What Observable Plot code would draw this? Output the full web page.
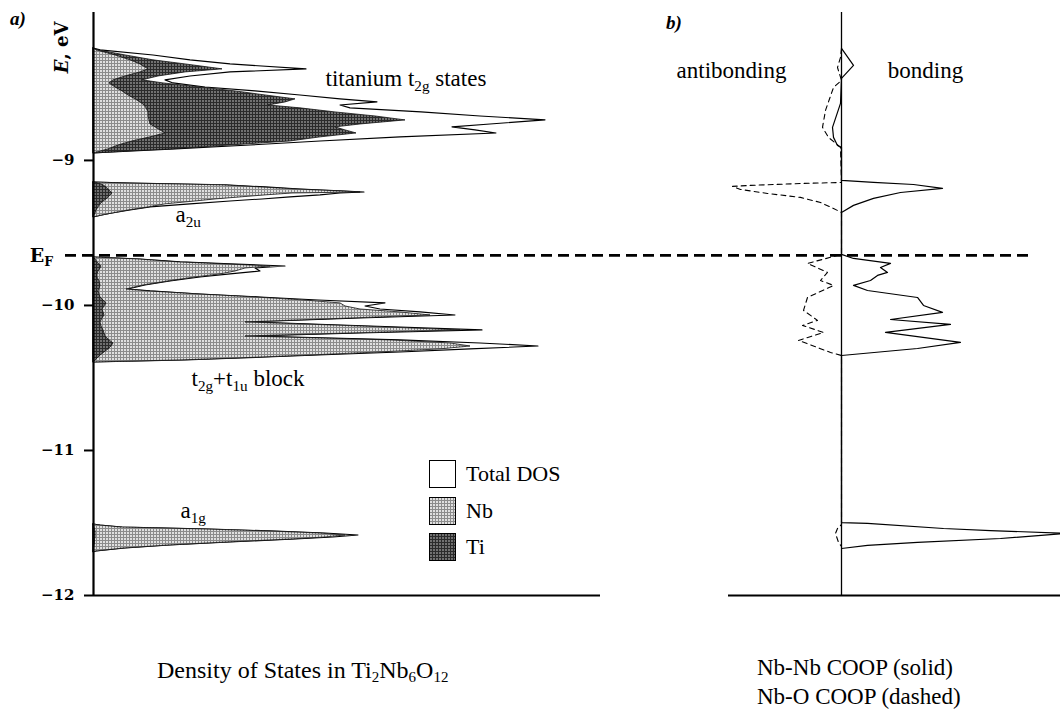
<!DOCTYPE html>
<html><head><meta charset="utf-8">
<script src="https://cdn.jsdelivr.net/npm/d3@7"></script>
<script src="https://cdn.jsdelivr.net/npm/@observablehq/plot@0.6"></script>
<style>
body{margin:0;background:#fff;}
#wrap{position:relative;width:1060px;height:715px;background:#fff;font-family:"Liberation Serif",serif;color:#000;overflow:hidden;}
#left{position:absolute;left:0;top:0;}
#right{position:absolute;left:728px;top:0;}
.panel{position:absolute;font-weight:bold;font-style:italic;font-size:19px;}
.cap{position:absolute;font-size:24px;white-space:nowrap;line-height:29px;}
.cap sub{font-size:15px;vertical-align:-4px;line-height:0;}
#legend{position:absolute;left:429px;top:460px;}
.li{display:flex;align-items:center;height:44.5px;margin-top:-8px;font-size:22px;}
.li svg{margin-right:10px;}
</style></head><body>
<div id="wrap">
  <div id="left"></div>
  <div id="right"></div>
  <div class="panel" style="left:10px;top:8px;">a)</div>
  <div class="panel" style="left:666px;top:12px;">b)</div>
  <div id="legend"></div>
  <div class="cap" style="left:157px;top:656px;">Density of States in Ti<sub>2</sub>Nb<sub>6</sub>O<sub>12</sub></div>
  <div class="cap" style="left:757px;top:653px;font-size:23px;">Nb-Nb COOP (solid)<br>Nb-O COOP (dashed)</div>
</div>
<script>
// ---------------- data ----------------
const fermiEnergy = -9.655;
const yTicks = [-9, -10, -11, -12];

// titanium t2g band
const bandTopE = [-8.228,-8.241,-8.276,-8.310,-8.338,-8.372,-8.393,-8.421,-8.448,-8.469,-8.497,-8.524,-8.552,-8.579,-8.600,-8.621,-8.641,-8.669,-8.697,-8.724,-8.752,-8.772,-8.793,-8.814,-8.841,-8.869,-8.897,-8.924,-8.938,-8.952];
const bandTopTotal = [0,1.4,12.0,19.4,27.4,42.6,27.4,19.4,14.4,16.0,22.4,32.4,41.4,49.4,56.8,49.4,51.4,65.6,77.4,90.4,79.4,71.8,76.4,80.6,61.4,45.4,31.4,16.4,8.0,0];
const bandTopNb = [0,0.6,4.4,7.4,9.4,11.0,9.4,6.4,4.0,3.2,4.4,5.8,7.0,8.4,9.4,10.2,10.6,11.0,11.0,11.2,11.4,12.4,13.4,14.4,11.4,7.8,5.0,3.0,1.5,0];
const bandTopTi = [0,1.0,6.4,12.0,18.4,25.8,18.4,13.0,9.8,14.0,21.4,28.4,34.4,40.4,38.4,35.0,41.4,48.4,56.4,62.4,53.4,48.4,50.4,52.6,45.4,39.4,27.4,15.4,7.0,0];

// a2u band
const bandA2uE = [-9.152,-9.159,-9.172,-9.186,-9.200,-9.214,-9.221,-9.228,-9.241,-9.255,-9.269,-9.283,-9.303,-9.324,-9.345,-9.366,-9.379,-9.393];
const bandA2uTotal = [0,7.4,26.4,34.4,41.4,50.4,54.2,49.4,45.4,39.4,33.8,27.4,19.4,11.4,7.4,3.8,1.8,0];
const bandA2uNb = [0,6.4,25.8,33.4,40.4,49.4,53.4,39.8,34.4,29.4,24.4,20.4,14.4,11.0,7.0,3.8,1.8,0];
const bandA2uTi = [0,1.0,2.0,2.6,3.0,3.4,3.6,3.8,3.4,3.0,2.6,2.0,1.4,1.0,0.6,0.4,0.2,0];

// t2g + t1u block
const bandLowE = [-9.669,-9.683,-9.703,-9.717,-9.731,-9.745,-9.766,-9.786,-9.807,-9.834,-9.862,-9.890,-9.903,-9.924,-9.945,-9.966,-9.986,-10.007,-10.028,-10.048,-10.069,-10.090,-10.117,-10.145,-10.172,-10.193,-10.214,-10.241,-10.262,-10.283,-10.303,-10.324,-10.345,-10.366,-10.379,-10.393];
const bandLowTotal = [0,9.4,17.4,27.4,38.4,32.4,33.4,27.4,21.4,15.4,10.4,7.0,11.4,21.4,33.4,45.0,58.4,54.4,57.4,65.4,72.4,53.4,31.4,55.4,77.8,53.4,31.4,61.4,77.4,89.0,75.4,61.4,45.0,29.4,18.4,0];
const bandLowNb = [0,9.0,17.0,26.4,35.4,30.4,28.4,25.4,20.4,15.0,10.0,6.6,11.0,21.0,32.4,42.4,49.4,50.4,53.4,61.4,67.4,51.4,30.4,53.4,73.4,51.4,30.4,59.4,71.4,75.4,69.4,57.4,43.4,28.4,17.4,0];
const bandLowTi = [0,0.4,0.8,1.2,1.6,1.4,1.0,0.8,0.8,1.2,1.4,1.2,1.0,1.2,1.4,2.0,2.6,2.2,1.8,2.0,2.2,1.8,1.4,1.6,2.0,2.2,2.4,3.2,4.0,3.6,3.0,2.2,1.4,0.8,0.4,0];

// a1g band
const bandA1gE = [-11.510,-11.517,-11.531,-11.545,-11.559,-11.572,-11.586,-11.600,-11.614,-11.634,-11.655,-11.676,-11.697,-11.703];
const bandA1gTotal = [0,1.4,5.8,23.4,36.4,46.4,53.0,48.0,40.4,27.4,15.4,6.4,0.6,0];
const bandA1gNb = [0,1.2,5.4,22.4,35.4,45.0,50.4,46.4,39.4,26.8,15.0,6.0,0.4,0];
const bandA1gTi = [0,0.1,0.2,0.3,0.4,0.4,0.4,0.4,0.3,0.3,0.2,0.1,0,0];

// COOP curves (positive = bonding)
const coopNbNbE = [-8.228,-8.345,-8.434,-8.607,-8.772,-8.841,-8.897,-8.910,-9.138,-9.152,-9.166,-9.193,-9.221,-9.262,-9.310,-9.359,-9.648,-9.676,-9.710,-9.738,-9.772,-9.793,-9.828,-9.862,-9.897,-9.945,-10.000,-10.048,-10.097,-10.131,-10.186,-10.255,-10.297,-10.345,-11.497,-11.503,-11.538,-11.552,-11.572,-11.607,-11.634,-11.655,-11.676];
const coopNbNb = [0,0.12,0,-0.01,-0.09,-0.08,-0.04,0,0,0.32,0.72,1.01,0.59,0.32,0.12,0,0,0.12,0.49,0.39,0.46,0.36,0.29,0.12,0.26,0.76,0.82,1.01,0.49,1.09,0.44,1.19,0.76,0,0,0.26,1.02,1.49,2.24,1.59,0.76,0.26,0];
const coopNbOE = [-8.228,-8.290,-8.359,-8.448,-8.497,-8.655,-8.772,-8.841,-8.910,-9.152,-9.159,-9.172,-9.179,-9.200,-9.228,-9.255,-9.290,-9.331,-9.359,-9.648,-9.710,-9.772,-9.828,-9.862,-9.945,-10.034,-10.103,-10.138,-10.186,-10.241,-10.324,-10.345,-11.510,-11.538,-11.572,-11.634,-11.662];
const coopNbO = [0,-0.01,-0.04,0,-0.08,-0.16,-0.19,-0.13,-0.01,0,-0.41,-0.91,-1.09,-1.01,-0.74,-0.41,-0.21,-0.08,0,0,-0.34,-0.14,-0.21,-0.08,-0.34,-0.38,-0.24,-0.39,-0.18,-0.43,-0.11,0,0,-0.04,-0.06,-0.03,0];

const dosAnnotations = [
  {label: "titanium t_{2g} states", x: 46.4, E: -8.434},
  {label: "a_{2u}", x: 16.4, E: -9.372},
  {label: "t_{2g}+t_{1u} block", x: 19.6, E: -10.503},
  {label: "a_{1g}", x: 17.4, E: -11.414}
];
const coopAnnotations = [
  {label: "antibonding", x: -1.10, E: -8.379},
  {label: "bonding", x: 0.84, E: -8.379}
];
const legendItems = ["Total DOS", "Nb", "Ti"];
const legendFills = ["white", "url(#patNb)", "url(#patTi)"];

// ---------------- build tables ----------------
const bands = [
  {name: "top", E: bandTopE, total: bandTopTotal, nb: bandTopNb, ti: bandTopTi},
  {name: "a2u", E: bandA2uE, total: bandA2uTotal, nb: bandA2uNb, ti: bandA2uTi},
  {name: "low", E: bandLowE, total: bandLowTotal, nb: bandLowNb, ti: bandLowTi},
  {name: "a1g", E: bandA1gE, total: bandA1gTotal, nb: bandA1gNb, ti: bandA1gTi}
];
const dosRows = bands.flatMap(b => b.E.map((E, i) => ({band: b.name, E, total: b.total[i], nb: b.nb[i], ti: b.ti[i]})));
const fillOf = {nb: "url(#patNb)", ti: "url(#patTi)"};
// draw the larger partial DOS first, the smaller one on top
const partialMarks = bands.flatMap(b => {
  const rows = dosRows.filter(r => r.band === b.name);
  const order = d3.sum(b.nb) >= d3.sum(b.ti) ? ["nb", "ti"] : ["ti", "nb"];
  return order.map(k => Plot.areaX(rows, {y: "E", x: k, fill: fillOf[k], stroke: "#111", strokeWidth: 0.8}));
});
const nbNbRows = coopNbNbE.map((E, i) => ({E, v: coopNbNb[i]}));
const nbORows = coopNbOE.map((E, i) => ({E, v: coopNbO[i]}));

const ns = "http://www.w3.org/2000/svg";
const patternDefs = `
<pattern id="patNb" width="3" height="3" patternUnits="userSpaceOnUse"><rect width="3" height="3" fill="#e0e0e0"/><path d="M0 0.5H3M0.5 0V3" stroke="#8c8c8c" stroke-width="1"/></pattern>
<pattern id="patTi" width="3" height="3" patternUnits="userSpaceOnUse"><rect width="3" height="3" fill="#707070"/><path d="M0 0.5H3M0.5 0V3" stroke="#2a2a2a" stroke-width="1"/></pattern>`;

function richify(svg) {
  svg.querySelectorAll("text").forEach(t => {
    const s = t.textContent;
    if (!/[_*]/.test(s)) return;
    const fs = parseFloat(getComputedStyle(t).fontSize) || 20;
    while (t.firstChild) t.removeChild(t.firstChild);
    const re = /_\{([^}]*)\}|\*([^*]*)\*|([^_*]+)/g;
    let m, shifted = false;
    while ((m = re.exec(s))) {
      const sp = document.createElementNS(ns, "tspan");
      if (m[1] !== undefined) {
        sp.textContent = m[1];
        sp.setAttribute("font-size", (fs * 0.66).toFixed(1));
        if (!shifted) sp.setAttribute("dy", (fs * 0.24).toFixed(1));
        shifted = true;
      } else {
        sp.textContent = m[2] !== undefined ? m[2] : m[3];
        if (m[2] !== undefined) sp.setAttribute("font-style", "italic");
        if (shifted) { sp.setAttribute("dy", (-fs * 0.24).toFixed(1)); shifted = false; }
      }
      t.appendChild(sp);
    }
  });
}

const baseStyle = {fontFamily: '"Liberation Serif", serif', fontSize: "22px", background: "transparent", overflow: "visible", color: "black"};

const leftPlot = Plot.plot({
  width: 728, height: 620,
  marginLeft: 93, marginRight: 128, marginTop: 12, marginBottom: 25,
  x: {domain: [0, 101.4], axis: null},
  y: {domain: [-12, -7.98]},
  style: baseStyle,
  marks: [
    Plot.areaX(dosRows, {y: "E", x: "total", z: "band", fill: "white", stroke: "black", strokeWidth: 1.1}),
    ...partialMarks,
    Plot.ruleY([fermiEnergy], {x1: -5.6, x2: 127, stroke: "black", strokeWidth: 2.6, strokeDasharray: "11,6"}),
    Plot.ruleX([0], {stroke: "black", strokeWidth: 2.2}),
    Plot.ruleY([-12], {stroke: "black", strokeWidth: 2.2}),
    Plot.axisY({ticks: yTicks, tickFormat: d => "\u2212" + Math.abs(d), tickSize: 9, tickPadding: 10, strokeWidth: 2, fontSize: 15, fontWeight: "bold", fontFamily: "DejaVu Serif", label: null}),
    Plot.text(dosAnnotations, {x: "x", y: "E", text: "label", textAnchor: "start", fontSize: 23}),
    Plot.text(["E_{F}"], {x: -10.4, y: fermiEnergy, text: d => d, fontSize: 19, fontWeight: "bold", fontFamily: "DejaVu Serif"}),
    Plot.text(["*E*, eV"], {x: -6.2, y: -8.221, text: d => d, rotate: -90, fontSize: 18, fontWeight: "bold", fontFamily: "DejaVu Serif"})
  ]
});
const defs = document.createElementNS(ns, "defs");
defs.innerHTML = patternDefs;
leftPlot.insertBefore(defs, leftPlot.firstChild);
document.getElementById("left").appendChild(leftPlot);
richify(leftPlot);

const rightPlot = Plot.plot({
  width: 332, height: 620,
  marginLeft: 0, marginRight: 0, marginTop: 12, marginBottom: 25,
  x: {domain: [-1.13, 2.19], axis: null},
  y: {domain: [-12, -7.98], axis: null},
  style: baseStyle,
  marks: [
    Plot.ruleX([0], {stroke: "black", strokeWidth: 1.3}),
    Plot.ruleY([-12], {stroke: "black", strokeWidth: 2.2}),
    Plot.line(nbORows, {x: "v", y: "E", stroke: "black", strokeWidth: 1.1, strokeDasharray: "5,4"}),
    Plot.line(nbNbRows, {x: "v", y: "E", stroke: "black", strokeWidth: 1.2}),
    Plot.ruleY([fermiEnergy], {x1: -1.13, x2: 1.91, stroke: "black", strokeWidth: 2.6, strokeDasharray: "11,6"}),
    Plot.text(coopAnnotations, {x: "x", y: "E", text: "label", textAnchor: "middle", fontSize: 23})
  ]
});
document.getElementById("right").appendChild(rightPlot);

// legend
const legend = document.getElementById("legend");
legendItems.forEach((name, i) => {
  const row = document.createElement("div");
  row.className = "li";
  row.innerHTML = `<svg width="27" height="28"><rect x="0.5" y="0.5" width="26" height="27" fill="${legendFills[i]}" stroke="black" stroke-width="1"/></svg><span>${name}</span>`;
  legend.appendChild(row);
});
</script>
</body></html>
